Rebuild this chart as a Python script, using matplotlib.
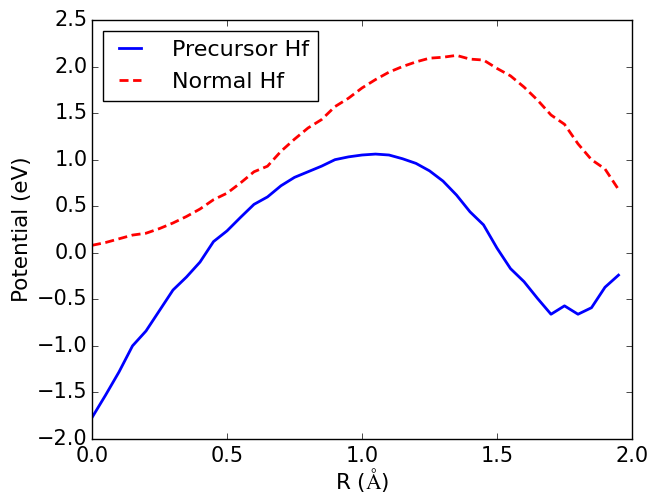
import matplotlib
matplotlib.use('Agg')
import matplotlib.pyplot as plt

plt.style.use('classic')
plt.rcParams['mathtext.fontset'] = 'cm'

r = [0.00, 0.05, 0.10, 0.15, 0.20, 0.25, 0.30, 0.35, 0.40, 0.45,
     0.50, 0.55, 0.60, 0.65, 0.70, 0.75, 0.80, 0.85, 0.90, 0.95,
     1.00, 1.05, 1.10, 1.15, 1.20, 1.25, 1.30, 1.35, 1.40, 1.45,
     1.50, 1.55, 1.60, 1.65, 1.70, 1.75, 1.80, 1.85, 1.90, 1.95]

precursor = [-1.77, -1.53, -1.28, -1.00, -0.84, -0.62, -0.40, -0.26, -0.10, 0.12,
             0.235, 0.38, 0.52, 0.60, 0.72, 0.81, 0.87, 0.93, 1.00, 1.03,
             1.05, 1.06, 1.05, 1.01, 0.96, 0.88, 0.77, 0.62, 0.44, 0.30,
             0.05, -0.17, -0.31, -0.49, -0.66, -0.57, -0.66, -0.59, -0.37, -0.24]

normal = [0.08, 0.11, 0.15, 0.19, 0.21, 0.26, 0.32, 0.39, 0.47, 0.57,
          0.64, 0.75, 0.87, 0.93, 1.09, 1.22, 1.34, 1.43, 1.57, 1.66,
          1.77, 1.86, 1.94, 2.00, 2.05, 2.09, 2.10, 2.12, 2.08, 2.07,
          1.98, 1.90, 1.78, 1.64, 1.48, 1.38, 1.17, 1.00, 0.90, 0.68]

fig = plt.figure(figsize=(6.52, 4.93), dpi=100, facecolor='white')
ax = fig.add_axes([92 / 652, 1 - 439 / 493, 540 / 652, 419 / 493])

ax.plot(r, precursor, color='blue', lw=2, label='Precursor Hf')
ax.plot(r, normal, color='red', lw=2, ls='--', dashes=(6.5, 3.3), label='Normal Hf')

ax.set_xlim(0, 2.0)
ax.set_ylim(-2.0, 2.5)
ax.set_xticks([0.0, 0.5, 1.0, 1.5, 2.0])
ax.set_yticks([-2.0, -1.5, -1.0, -0.5, 0.0, 0.5, 1.0, 1.5, 2.0, 2.5])
ax.tick_params(labelsize=15)
ax.tick_params(axis='y', pad=3)
ax.tick_params(axis='x', pad=5)
ax.set_xlabel(r'R ($\mathrm{\AA}$)', fontsize=15.5, labelpad=0)
ax.set_ylabel('Potential (eV)', fontsize=15.5, labelpad=4)

leg = ax.legend(loc='upper left', fontsize=16, handlelength=1.6,
                handletextpad=1.1, labelspacing=0.55)
leg.get_frame().set_edgecolor('black')

fig.savefig('out.png', dpi=100, facecolor='white')
